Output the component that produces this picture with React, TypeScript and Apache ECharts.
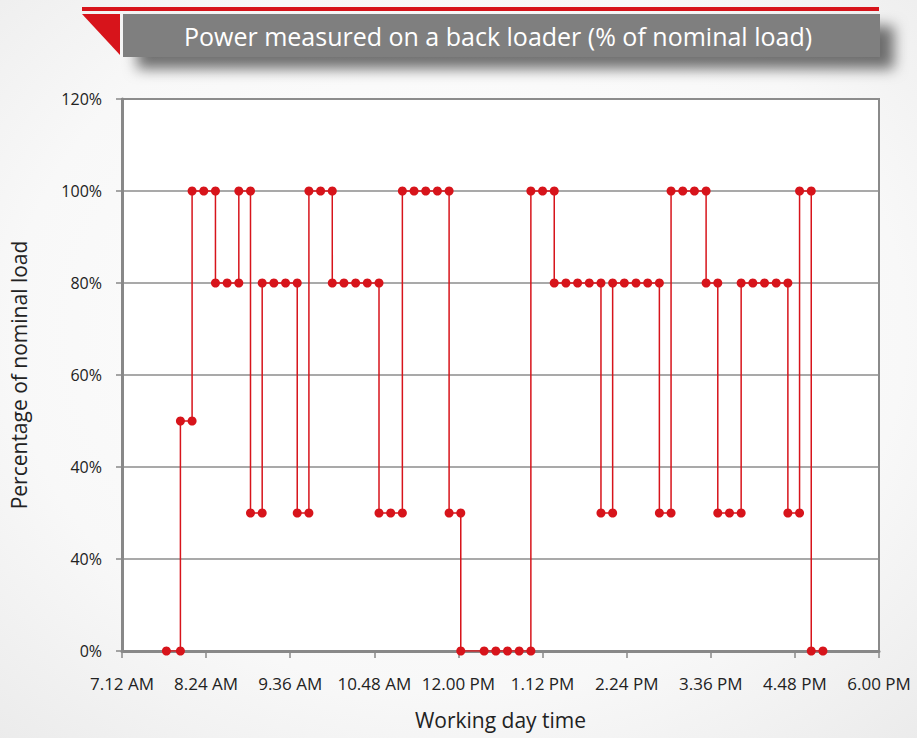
import React, { useEffect, useRef } from "react";
import * as echarts from "echarts";

const chartTitle = "Power measured on a back loader (% of nominal load)";
const yAxisName = "Percentage of nominal load";
const xAxisName = "Working day time";

// Measurement times (HH:MM); a repeated time marks a step change in load
const times = [
  "07:50", "08:02", "08:02", "08:12", "08:12", "08:22", "08:32", "08:32", "08:42", "08:52",
  "08:52", "09:02", "09:02", "09:12", "09:12", "09:22", "09:32", "09:42", "09:42", "09:52",
  "09:52", "10:02", "10:12", "10:12", "10:22", "10:32", "10:42", "10:52", "10:52", "11:02",
  "11:12", "11:12", "11:22", "11:32", "11:42", "11:52", "11:52", "12:02", "12:02", "12:22",
  "12:32", "12:42", "12:52", "13:02", "13:02", "13:12", "13:22", "13:22", "13:32", "13:42",
  "13:52", "14:02", "14:02", "14:12", "14:12", "14:22", "14:32", "14:42", "14:52", "14:52",
  "15:02", "15:02", "15:12", "15:22", "15:32", "15:32", "15:42", "15:42", "15:52", "16:02",
  "16:02", "16:12", "16:22", "16:32", "16:42", "16:42", "16:52", "16:52", "17:02", "17:02",
  "17:12",
];

// Load in % of nominal load
const loads = [
  0, 0, 50, 50, 100, 100, 100, 80, 80, 80,
  100, 100, 30, 30, 80, 80, 80, 80, 30, 30,
  100, 100, 100, 80, 80, 80, 80, 80, 30, 30,
  30, 100, 100, 100, 100, 100, 30, 30, 0, 0,
  0, 0, 0, 0, 100, 100, 100, 80, 80, 80,
  80, 80, 30, 30, 80, 80, 80, 80, 80, 30,
  30, 100, 100, 100, 100, 80, 80, 30, 30, 30,
  80, 80, 80, 80, 80, 30, 30, 100, 100, 0,
  0,
];

const xTickLabels = [
  "7.12 AM", "8.24 AM", "9.36 AM", "10.48 AM", "12.00 PM",
  "1.12 PM", "2.24 PM", "3.36 PM", "4.48 PM", "6.00 PM",
];
const yTickLabels = ["0%", "40%", "40%", "60%", "80%", "100%", "120%"];

const X_MIN = 432; // 7:12 in minutes
const X_STEP = 72;
const Y_STEP = 20;

const toMin = (t: string) => {
  const [h, m] = t.split(":").map(Number);
  return h * 60 + m;
};

const RED = "#d7141b";
const FONT = "'Open Sans', sans-serif";

export default function App() {
  const ref = useRef<HTMLDivElement>(null);

  useEffect(() => {
    if (!ref.current) return;
    const chart = echarts.init(ref.current, undefined, { renderer: "svg" });
    const data = times.map((t, i) => [toMin(t), loads[i]]);

    chart.setOption({
      animation: false,
      backgroundColor: new echarts.graphic.RadialGradient(0.5, 0.45, 0.75, [
        { offset: 0, color: "#ffffff" },
        { offset: 0.65, color: "#f8f8f8" },
        { offset: 1, color: "#ebebeb" },
      ]),
      grid: {
        left: 122,
        right: 38,
        top: 99,
        bottom: 87,
        show: true,
        backgroundColor: "#ffffff",
        borderColor: "#8a8a8a",
        borderWidth: 2,
      },
      xAxis: {
        type: "value",
        min: X_MIN,
        max: X_MIN + X_STEP * (xTickLabels.length - 1),
        interval: X_STEP,
        name: xAxisName,
        nameLocation: "middle",
        nameGap: 58,
        nameTextStyle: { fontFamily: FONT, fontSize: 21, color: "#222" },
        axisLine: { show: true, lineStyle: { color: "#888", width: 3 } },
        axisTick: { show: true, length: 7, lineStyle: { color: "#888", width: 1.5 } },
        axisLabel: {
          fontFamily: FONT,
          fontSize: 17,
          color: "#222",
          margin: 24,
          formatter: (v: number) => xTickLabels[Math.round((v - X_MIN) / X_STEP)] ?? "",
        },
        splitLine: { show: false },
      },
      yAxis: {
        type: "value",
        min: 0,
        max: Y_STEP * (yTickLabels.length - 1),
        interval: Y_STEP,
        name: yAxisName,
        nameLocation: "middle",
        nameGap: 93,
        nameTextStyle: { fontFamily: FONT, fontSize: 21, color: "#222" },
        axisLine: { show: true, lineStyle: { color: "#888", width: 3 } },
        axisTick: { show: true, length: 6, lineStyle: { color: "#888", width: 1.5 } },
        axisLabel: {
          fontFamily: FONT,
          fontSize: 16,
          color: "#222",
          margin: 20,
          formatter: (v: number) => yTickLabels[Math.round(v / Y_STEP)] ?? "",
        },
        splitLine: { show: true, lineStyle: { color: "#8c8c8c", width: 1.5 } },
      },
      series: [
        {
          type: "line",
          data,
          symbol: "circle",
          symbolSize: 9,
          lineStyle: { color: RED, width: 1.5 },
          itemStyle: { color: RED },
          z: 5,
        },
      ],
      graphic: [
        {
          type: "rect",
          shape: { x: 82, y: 7, width: 797, height: 4 },
          style: { fill: RED },
          z: 10,
        },
        {
          type: "polygon",
          shape: { points: [[82, 14], [120, 14], [120, 55]] },
          style: { fill: RED },
          z: 10,
        },
        {
          type: "rect",
          shape: { x: 123, y: 14, width: 757, height: 43 },
          style: {
            fill: "#7f7f7f",
            shadowBlur: 14,
            shadowOffsetX: 14,
            shadowOffsetY: 12,
            shadowColor: "rgba(0,0,0,0.55)",
          },
          z: 10,
        },
        {
          type: "text",
          x: 498,
          y: 36,
          style: {
            text: chartTitle,
            fill: "#ffffff",
            font: `25px ${FONT}`,
            align: "center",
            verticalAlign: "middle",
          },
          z: 11,
        },
      ],
    });

    return () => chart.dispose();
  }, []);

  return (
    <div
      ref={ref}
      style={{ position: "absolute", left: 0, top: 0, width: 917, height: 738 }}
    />
  );
}
